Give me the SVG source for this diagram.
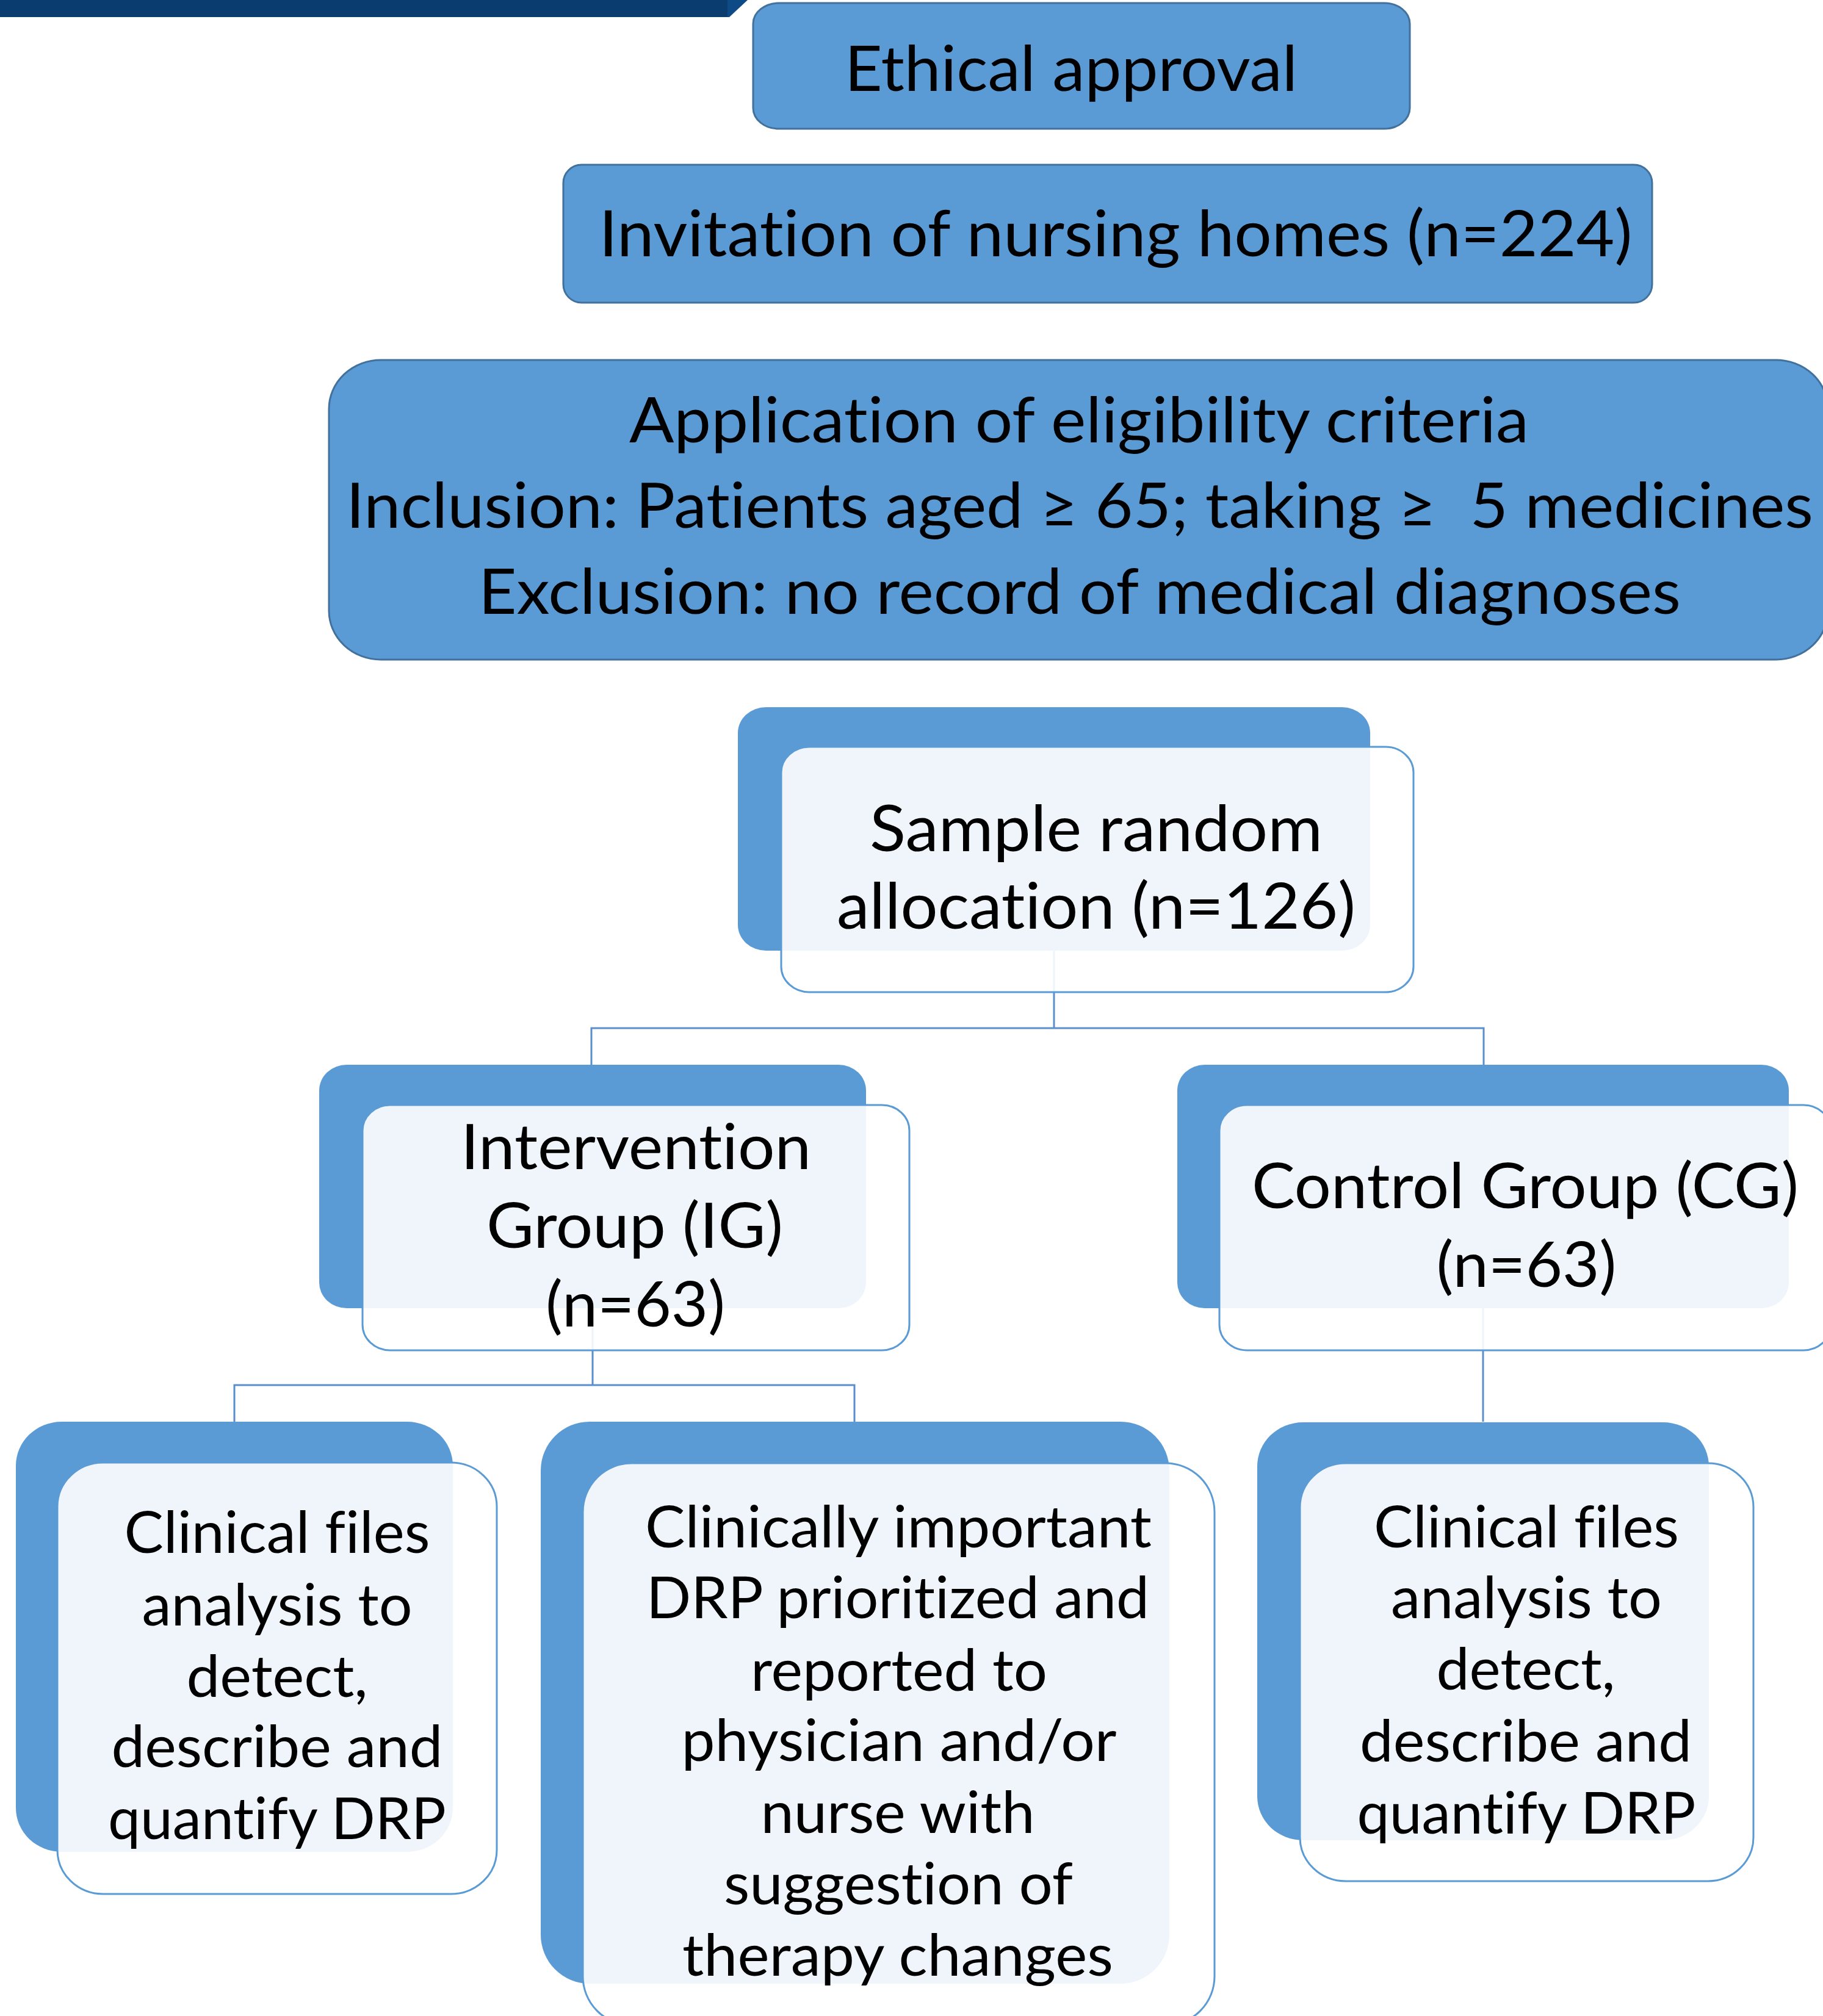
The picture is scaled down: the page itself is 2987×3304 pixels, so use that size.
<svg xmlns="http://www.w3.org/2000/svg" width="2987" height="3304" viewBox="0 0 2987 3304">
<style>
text{font-family:Lato,"Noto Sans","DejaVu Sans",sans-serif;fill:#000;text-anchor:middle;font-variant-ligatures:none;font-feature-settings:"liga" 0,"clig" 0}
.top{fill:#5B9BD5;stroke:#41719C;stroke-width:3}
.back{fill:#5B9BD5}
.front{fill:#fff;fill-opacity:0.9;stroke:#5B9BD5;stroke-width:3}
.conn{fill:none;stroke:#5B8FCB;stroke-width:3}
.t1{font-size:103px}
.t2{font-size:105px}
.t3{font-size:95px}
</style>
<rect width="2987" height="3304" fill="#fff"/>
<g id="banner">
<polygon points="0,0 1194,0 1194,28 0,28" fill="#0A3C6F"/>
<polygon points="1192,0 1225,0 1195,28 1192,28" fill="#0D4A86"/>
</g>
<g id="connectors">
<path class="conn" d="M1727,1558 V1685 H969 V1745 M1727,1685 H2431 V1745"/>
<path class="conn" d="M971,2144 V2270 H384 V2330 M971,2270 H1400 V2330"/>
<path class="conn" d="M2430,2144 V2330"/>
</g>
<g id="ethical">
<rect class="top" x="1234" y="5" width="1076" height="206" rx="42" ry="34"/>
<text class="t1" x="1755" y="149" textLength="742" lengthAdjust="spacingAndGlyphs">Ethical approval</text>
</g>
<g id="invitation">
<rect class="top" x="923" y="270" width="1784" height="226" rx="30" ry="30"/>
<text class="t2" x="1828" y="420" textLength="1693" lengthAdjust="spacingAndGlyphs">Invitation of nursing homes (n=224)</text>
</g>
<g id="eligibility">
<rect class="top" x="539" y="590" width="2456" height="491" rx="85" ry="80"/>
<text class="t1" x="1768" y="725" textLength="1474" lengthAdjust="spacingAndGlyphs">Application of eligibility criteria</text>
<text class="t1" x="1769" y="865" textLength="2404" lengthAdjust="spacingAndGlyphs" xml:space="preserve">Inclusion: Patients aged ≥ 65; taking ≥  5 medicines</text>
<text class="t1" x="1769" y="1006" textLength="1970" lengthAdjust="spacingAndGlyphs">Exclusion: no record of medical diagnoses</text>
</g>
<g id="sample">
<rect class="back" x="1209" y="1159" width="1036" height="399" rx="46" ry="42"/>
<rect class="front" x="1280" y="1224" width="1036" height="402" rx="46" ry="42"/>
<text class="t2" x="1796" y="1395" textLength="742" lengthAdjust="spacingAndGlyphs">Sample random</text>
<text class="t2" x="1796" y="1522" textLength="850" lengthAdjust="spacingAndGlyphs">allocation (n=126)</text>
</g>
<g id="ig">
<rect class="back" x="523" y="1745" width="896" height="399" rx="45" ry="42"/>
<rect class="front" x="594" y="1811" width="896" height="402" rx="45" ry="42"/>
<text class="t1" x="1042" y="1916" textLength="574" lengthAdjust="spacingAndGlyphs">Intervention</text>
<text class="t1" x="1040" y="2045" textLength="486" lengthAdjust="spacingAndGlyphs">Group (IG)</text>
<text class="t1" x="1041" y="2174" textLength="294" lengthAdjust="spacingAndGlyphs">(n=63)</text>
</g>
<g id="cg">
<rect class="back" x="1929" y="1745" width="1002" height="399" rx="45" ry="42"/>
<rect class="front" x="1998" y="1811" width="1002" height="402" rx="45" ry="42"/>
<text class="t1" x="2499" y="1980" textLength="896" lengthAdjust="spacingAndGlyphs">Control Group (CG)</text>
<text class="t1" x="2501" y="2109" textLength="295" lengthAdjust="spacingAndGlyphs">(n=63)</text>
</g>
<g id="ig-files">
<rect class="back" x="26" y="2330" width="716" height="705" rx="75" ry="72"/>
<rect class="front" x="94" y="2397" width="720" height="707" rx="75" ry="72"/>
<text class="t3" x="454" y="2545" textLength="501" lengthAdjust="spacingAndGlyphs">Clinical files</text>
<text class="t3" x="454" y="2664" textLength="443" lengthAdjust="spacingAndGlyphs">analysis to</text>
<text class="t3" x="454" y="2781" textLength="297" lengthAdjust="spacingAndGlyphs">detect,</text>
<text class="t3" x="454" y="2896" textLength="543" lengthAdjust="spacingAndGlyphs">describe and</text>
<text class="t3" x="454" y="3014" textLength="554" lengthAdjust="spacingAndGlyphs">quantify DRP</text>
</g>
<g id="ig-report">
<rect class="back" x="886" y="2330" width="1030" height="921" rx="80" ry="80"/>
<rect class="front" x="955" y="2398" width="1035" height="921" rx="80" ry="80"/>
<text class="t3" x="1472" y="2536" textLength="830" lengthAdjust="spacingAndGlyphs">Clinically important</text>
<text class="t3" x="1471" y="2652" textLength="824" lengthAdjust="spacingAndGlyphs">DRP prioritized and</text>
<text class="t3" x="1473" y="2771" textLength="486" lengthAdjust="spacingAndGlyphs">reported to</text>
<text class="t3" x="1473" y="2886" textLength="713" lengthAdjust="spacingAndGlyphs">physician and/or</text>
<text class="t3" x="1471" y="3004" textLength="449" lengthAdjust="spacingAndGlyphs">nurse with</text>
<text class="t3" x="1472" y="3121" textLength="572" lengthAdjust="spacingAndGlyphs">suggestion of</text>
<text class="t3" x="1471" y="3238" textLength="706" lengthAdjust="spacingAndGlyphs">therapy changes</text>
</g>
<g id="cg-files">
<rect class="back" x="2060" y="2331" width="740" height="685" rx="75" ry="72"/>
<rect class="front" x="2130" y="2398" width="743" height="685" rx="75" ry="72"/>
<text class="t3" x="2501" y="2536" textLength="500" lengthAdjust="spacingAndGlyphs">Clinical files</text>
<text class="t3" x="2501" y="2652" textLength="444" lengthAdjust="spacingAndGlyphs">analysis to</text>
<text class="t3" x="2500" y="2769" textLength="293" lengthAdjust="spacingAndGlyphs">detect,</text>
<text class="t3" x="2500" y="2887" textLength="544" lengthAdjust="spacingAndGlyphs">describe and</text>
<text class="t3" x="2501" y="3005" textLength="555" lengthAdjust="spacingAndGlyphs">quantify DRP</text>
</g>
</svg>
